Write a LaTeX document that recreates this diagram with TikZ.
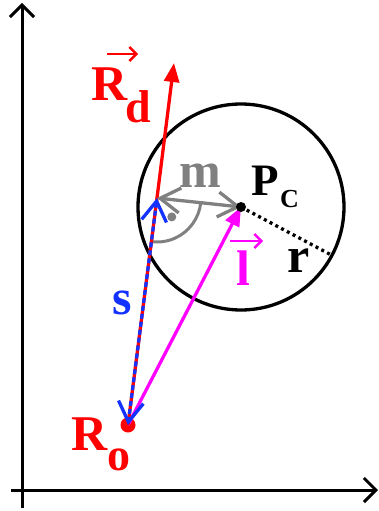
\documentclass[tikz,border=0pt]{standalone}
\usepackage{fontspec}
\setmainfont{Liberation Serif}
\usetikzlibrary{arrows.meta}
\definecolor{mag}{RGB}{255,0,255}
\definecolor{blu}{RGB}{20,50,255}
\definecolor{gry}{RGB}{128,128,128}
\tikzset{vbarb/.tip={Straight Barb[length=20pt,width=25pt]}}
\begin{document}
\begin{tikzpicture}[x=1pt,y=-1pt,
  axis/.style={line width=3pt, -{Straight Barb[length=12pt,width=24pt]}},
  lbl/.style={inner sep=0pt, anchor=base west, font=\bfseries\fontsize{50}{50}\selectfont},
  sublbl/.style={inner sep=0pt, anchor=base west, font=\bfseries\fontsize{46}{46}\selectfont},
  vecarrow/.style={line width=2.4pt, -{Straight Barb[length=7pt,width=14pt]}},
  thickline/.style={line width=3.3pt}
]
\useasboundingbox (0,0) rectangle (379,511);
% coordinates
\coordinate (F) at (157,198);
\coordinate (Tip) at (174,63);
\coordinate (R0) at (128,425);
\coordinate (Pc) at (241,207);
\coordinate (Ay0) at (22,508);
\coordinate (Ay1) at (22,3);
\coordinate (Ax0) at (11,490);
\coordinate (Ax1) at (378,490);
% axes
\draw[axis] (Ay0) -- (Ay1);
\draw[axis] (Ax0) -- (Ax1);
% circle and radius
\draw[line width=3.3pt] (Pc) circle[radius=103];
\coordinate (rEnd) at ([shift={(28:103)}]Pc);
\draw[line width=3.3pt, dash pattern=on 3pt off 3.5pt] (Pc) -- (rEnd);
% right angle marker
\draw[gry, line width=3pt] (F) ++(6:44) arc[start angle=6, end angle=97, radius=44];
\fill[gry] (F) ++(52:24) circle[radius=4.5];
% R0 dot
\node[circle, fill=red, minimum size=15pt, inner sep=0pt] (dotR) at (R0) {};
% magenta l
\draw[mag, thickline, -{Triangle[length=19pt,width=15pt]}] (R0) -- (Pc);
% red Rd
\draw[red, thickline, -{Triangle[length=19pt,width=15pt]}] (F) -- (Tip);
% s: red under blue dashed
\draw[red, thickline] (F) -- (R0);
\draw[blu, thickline, dash pattern=on 5pt off 3pt, vbarb-vbarb] (F) -- (R0);
% m
\draw[gry, thickline, vbarb-vbarb] (F) -- (Pc);
% Pc dot
\node[circle, fill=black, minimum size=10pt, inner sep=0pt] (dotP) at (Pc) {};
% labels
\node[lbl, text=red] (Rd) at (91,100) {R};
\node[sublbl, text=red] (Rdsub) at (125,122) {d};
\coordinate (RdA0) at (107,54);
\coordinate (RdA1) at (138,54);
\draw[red, vecarrow] (RdA0) -- (RdA1);
\node[lbl, text=red] (Ro) at (71,450) {R};
\node[sublbl, text=red] (Rosub) at (107,470) {o};
\node[inner sep=0pt, anchor=base west, font=\bfseries\fontsize{45}{45}\selectfont] (P) at (251,195) {P};
\node[inner sep=0pt, anchor=base west, font=\bfseries\fontsize{26}{26}\selectfont] (C) at (280,207) {C};
\node[lbl, text=gry] (m) at (179,187) {m};
\node[lbl, text=blu] (s) at (112,314) {s};
\node[lbl, text=mag] (l) at (236,285) {l};
\coordinate (lA0) at (230,241);
\coordinate (lA1) at (263,241);
\draw[mag, vecarrow] (lA0) -- (lA1);
\node[lbl] (r) at (287,272) {r};
\end{tikzpicture}
\end{document}
